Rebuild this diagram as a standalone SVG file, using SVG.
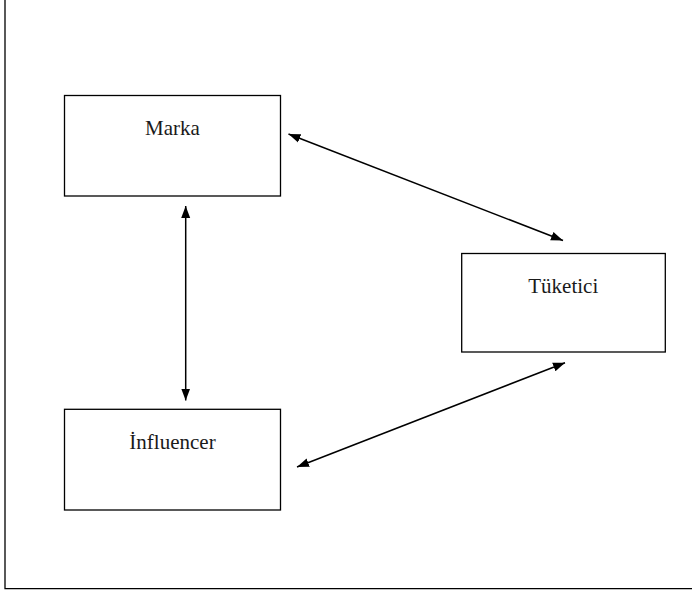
<svg xmlns="http://www.w3.org/2000/svg" width="692" height="592" viewBox="0 0 692 592">
  <defs>
    <style>
      .box { fill: #ffffff; stroke: #000000; stroke-width: 1.3; }
      .lbl { font-family: "Liberation Serif", "Times New Roman", serif; font-size: 21px; fill: #1a1a1a; text-anchor: middle; }
      .conn { stroke: #000000; stroke-width: 1.5; fill: none; marker-start: url(#ah); marker-end: url(#ah); }
      .frame { stroke: #000000; stroke-width: 1.3; fill: none; }
    </style>
    <marker id="ah" viewBox="0 0 12 10" refX="12" refY="5" markerWidth="12" markerHeight="10" markerUnits="userSpaceOnUse" orient="auto-start-reverse">
      <path d="M0,0.5 L12,5 L0,9.5 Z" fill="#000000"/>
    </marker>
  </defs>
  <rect width="692" height="592" fill="#ffffff"/>
  <path class="frame" d="M5,0 L5,588.7 L692,588.7"/>
  <g id="connectors">
    <line class="conn" x1="288.5" y1="134" x2="563" y2="240.5"/>
    <line class="conn" x1="185.7" y1="206" x2="185.7" y2="400.5"/>
    <line class="conn" x1="297" y1="467" x2="565" y2="362.7"/>
  </g>
  <g id="marka">
    <rect class="box" x="64.5" y="95.5" width="216" height="100.5"/>
    <text class="lbl" x="172.5" y="135">Marka</text>
  </g>
  <g id="tuketici">
    <rect class="box" x="461.7" y="253.5" width="203.6" height="98.5"/>
    <text class="lbl" x="563.3" y="293">Tüketici</text>
  </g>
  <g id="influencer">
    <rect class="box" x="64.5" y="409.3" width="216" height="100.7"/>
    <text class="lbl" x="172.5" y="449.3">İnfluencer</text>
  </g>
</svg>
